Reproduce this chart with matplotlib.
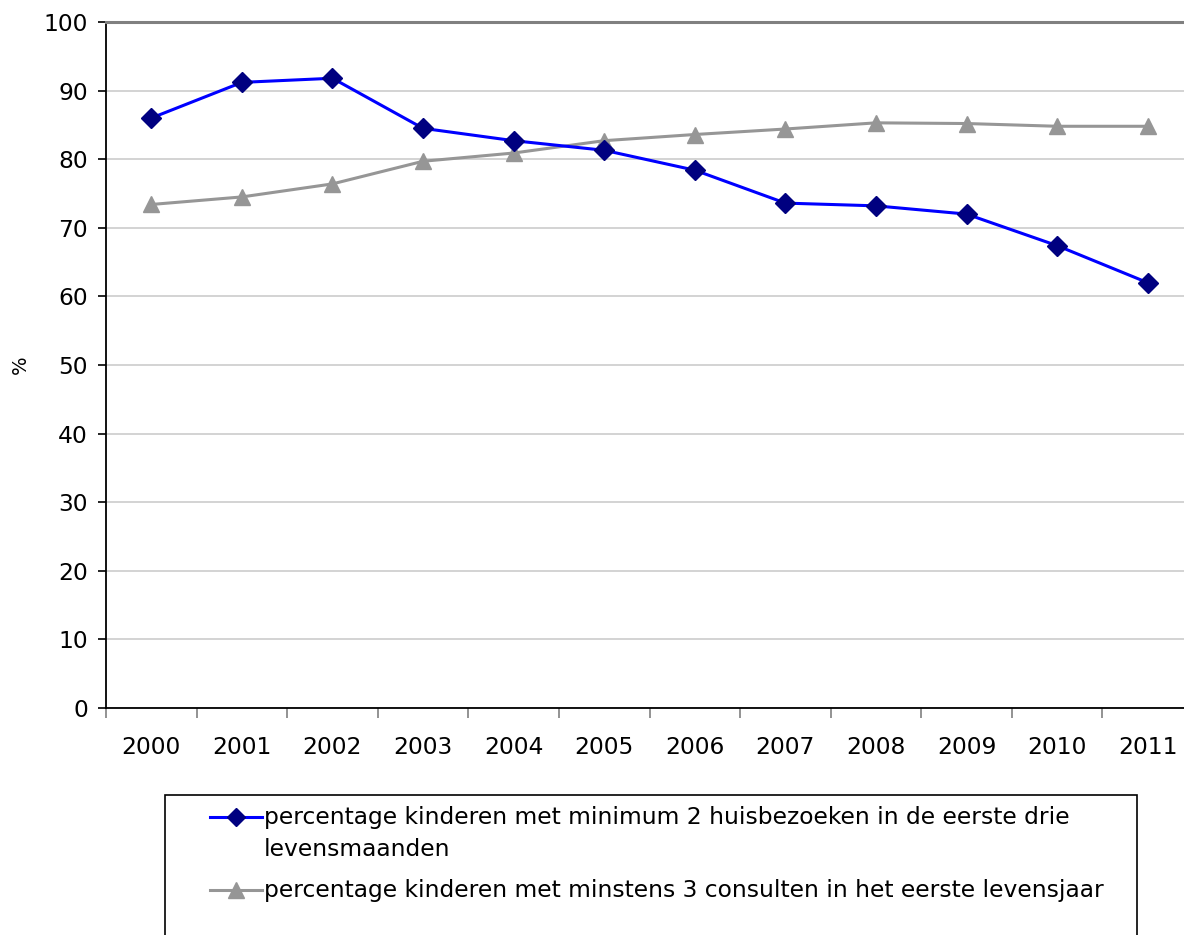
import matplotlib.pyplot as plt
from matplotlib.patches import Rectangle
from matplotlib.lines import Line2D

years = ["2000", "2001", "2002", "2003", "2004", "2005",
         "2006", "2007", "2008", "2009", "2010", "2011"]
huisbezoeken = [86.0, 91.2, 91.8, 84.5, 82.7, 81.3, 78.4, 73.6, 73.2, 72.0, 67.4, 62.0]
consulten = [73.4, 74.5, 76.4, 79.7, 80.9, 82.7, 83.6, 84.4, 85.3, 85.2, 84.8, 84.8]

label_1 = "percentage kinderen met minimum 2 huisbezoeken in de eerste drie\nlevensmaanden"
label_2 = "percentage kinderen met minstens 3 consulten in het eerste levensjaar"

plt.rcParams['font.family'] = ['DejaVu Sans']
W, H = 1184, 935
fs = 16.8
fig = plt.figure(figsize=(W / 100, H / 100), dpi=100)

# plot area runs past the right edge of the picture, like the original
ax = fig.add_axes([106 / W, (H - 708) / H, 1087 / W, 686 / H])
x = list(range(len(years)))
styles = [
    dict(color="#0000ff", lw=2.2, marker="D", ms=10,
         markerfacecolor="#000080", markeredgecolor="#000080"),
    dict(color="#969696", lw=2.2, marker="^", ms=12,
         markerfacecolor="#969696", markeredgecolor="#969696"),
]
ax.plot(x, consulten, zorder=3, **styles[1])
ax.plot(x, huisbezoeken, zorder=4, **styles[0])

ax.set_xlim(-0.5, len(years) - 0.5)
ax.set_ylim(0, 100)
ax.set_yticks(range(0, 101, 10))
ax.set_yticklabels([str(v) for v in range(0, 101, 10)], fontsize=fs)
ax.yaxis.grid(True, color="#c8c8c8", lw=1.1)
ax.set_axisbelow(True)

# categories labelled in the middle, ticks on the boundaries
ax.set_xticks(x)
ax.set_xticklabels(years, fontsize=fs)
ax.tick_params(axis="x", which="major", length=0, pad=20)
ax.set_xticks([i - 0.5 for i in range(len(years) + 1)], minor=True)
ax.tick_params(axis="x", which="minor", length=7, color="#808080", width=1.2)
ax.tick_params(axis="y", length=6, width=1.2, pad=7)

ax.spines["left"].set_linewidth(1.3)
ax.spines["bottom"].set_linewidth(1.3)
ax.spines["top"].set_color("#808080")
ax.spines["top"].set_linewidth(2.2)
ax.spines["right"].set_visible(False)

fig.text(20 / W, 1 - 365 / H, "%", rotation=90, fontsize=14,
         ha="center", va="center")

# legend drawn by hand: box open at the bottom edge, handle on the first text line
fig.patches.append(Rectangle((165 / W, -0.01), (1137 - 165) / W, 0.01 + (H - 795) / H,
                             transform=fig.transFigure, fill=False,
                             edgecolor="black", lw=1.2))
entries = [(label_1, 817, 833.5), (label_2, 890, 890)]
for (label, y_handle, y_text), st in zip(entries, styles):
    yh = 1 - y_handle / H
    fig.add_artist(Line2D([210 / W, 262 / W], [yh, yh], transform=fig.transFigure,
                          color=st["color"], lw=st["lw"]))
    fig.add_artist(Line2D([236 / W], [yh], transform=fig.transFigure, ls="none",
                          marker=st["marker"], ms=st["ms"] - 1,
                          markerfacecolor=st["markerfacecolor"],
                          markeredgecolor=st["markeredgecolor"]))
    fig.text(264 / W, 1 - y_text / H, label, fontsize=fs, ha="left",
             va="center", linespacing=1.45)

fig.savefig("out.png", dpi=100)
